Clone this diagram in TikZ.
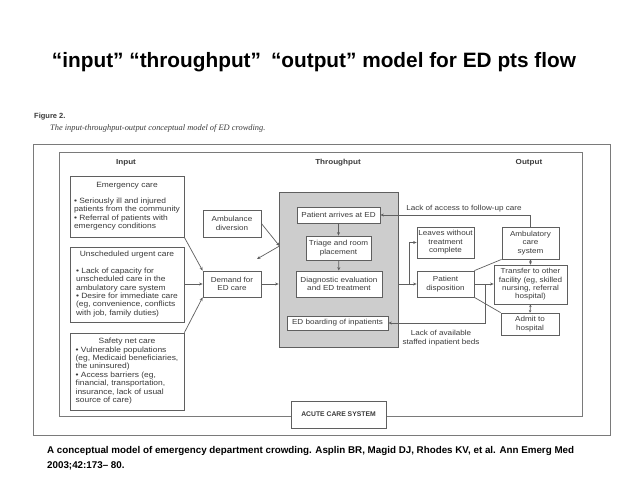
\documentclass[tikz,border=0pt]{standalone}
\usepackage{fontspec}
\setmainfont{Liberation Sans}
\newfontfamily\figfont[FakeStretch=1.11]{Liberation Sans}
\newfontfamily\capserif{Liberation Serif}
\usetikzlibrary{arrows.meta}
\definecolor{ln}{HTML}{5F5F5F}
\definecolor{tx}{HTML}{3A3A3A}
\definecolor{gfill}{HTML}{CDCDCD}
\definecolor{frm}{HTML}{7A7A7A}
\begin{document}
\begin{tikzpicture}[x=1pt,y=-1pt,
  fig/.style={font=\figfont\fontsize{7.3}{8.4}\selectfont, text=tx},
  box/.style={fig, draw=ln, line width=0.8pt, fill=white, inner sep=0pt, align=center},
  inbox/.style={box, font=\figfont\fontsize{7.6}{8.4}\selectfont},
  lbl/.style={fig, inner sep=0pt, align=center},
  con/.style={draw=ln, line width=0.7pt},
  arr/.style={con, -{Stealth[length=3.5pt,width=3pt]}},
  darr/.style={con, {Stealth[length=2.5pt,width=2.5pt]}-{Stealth[length=2.5pt,width=2.5pt]}},
  hdr/.style={font=\figfont\fontsize{7.3}{8}\selectfont\bfseries, text=tx, inner sep=0pt}
]
\useasboundingbox (0,0) rectangle (638,479);
\fill[white] (0,0) rectangle (638,479);

% title
\node[font=\fontsize{20.8}{24}\selectfont\bfseries, inner sep=0pt] (title) at (314,62)
  {“input” “throughput”\hspace{0.2em} “output” model for ED pts flow};

% figure caption
\node[anchor=west, font=\fontsize{7.5}{9}\selectfont\bfseries, text=tx, inner sep=0pt] (fig2) at (34,117) {Figure 2.};
\node[anchor=west, font=\capserif\itshape\fontsize{8.4}{10}\selectfont, text=tx, inner sep=0pt] (figcap) at (50,128)
  {The input-throughput-output conceptual model of ED crowding.};

% frames
\draw[frm, line width=1pt] (33,144) rectangle (610,435);
\draw[frm, line width=0.9pt] (59,152) rectangle (582,416);

% headers
\node[hdr] (hin) at (126,163) {Input};
\node[hdr] (hth) at (338,163) {Throughput};
\node[hdr] (hout) at (529,163) {Output};

% throughput gray box
\node[draw=ln, line width=0.8pt, fill=gfill, minimum width=119pt, minimum height=155pt, inner sep=0pt] (gray) at (338.5,269.5) {};

% input boxes
\node[inbox, minimum width=114pt, minimum height=61pt] (emerg) at (127,206.5)
  {\begin{tabular}{@{}l@{}}\multicolumn{1}{@{}c@{}}{Emergency care}\\[7.5pt]
   • Seriously ill and injured\\ patients from the community\\ • Referral of patients with\\ emergency conditions\end{tabular}};
\node[inbox, minimum width=114pt, minimum height=75pt] (unsch) at (127,284.5)
  {\begin{tabular}{@{}l@{}}\multicolumn{1}{@{}c@{}}{Unscheduled urgent care}\\[8pt]
   • Lack of capacity for\\ unscheduled care in the\\ ambulatory care system\\ • Desire for immediate care\\ (eg, convenience, conflicts\\ with job, family duties)\end{tabular}};
\node[inbox, minimum width=114pt, minimum height=77pt] (safety) at (127,371.5)
  {\begin{tabular}{@{}l@{}}\multicolumn{1}{@{}c@{}}{Safety net care}\\
   • Vulnerable populations\\ (eg, Medicaid beneficiaries,\\ the uninsured)\\ • Access barriers (eg,\\ financial, transportation,\\ insurance, lack of usual\\ source of care)\end{tabular}};

% middle-left boxes
\node[box, minimum width=58pt, minimum height=27pt] (amb) at (232,223.5) {Ambulance\\diversion};
\node[box, minimum width=58pt, minimum height=26pt] (demand) at (232,284) {Demand for\\ED care};

% throughput boxes
\node[box, minimum width=83pt, minimum height=16pt] (arrives) at (338.5,215) {Patient arrives at ED};
\node[box, minimum width=65pt, minimum height=24pt] (triage) at (338.5,248) {Triage and room\\placement};
\node[box, minimum width=86pt, minimum height=26pt] (diag) at (339,284) {Diagnostic evaluation\\and ED treatment};
\node[box, minimum width=101pt, minimum height=14pt] (board) at (337.5,323) {ED boarding of inpatients};

% output boxes
\node[box, minimum width=57pt, minimum height=31pt] (leaves) at (445.5,242.5) {Leaves without\\treatment\\complete};
\node[box, minimum width=57pt, minimum height=26pt] (dispo) at (445.5,284) {Patient\\disposition};
\node[box, minimum width=57pt, minimum height=32pt] (ambul) at (530.5,243) {Ambulatory\\care\\system};
\node[box, minimum width=73pt, minimum height=39pt] (transfer) at (530.5,284.5) {Transfer to other\\facility (eg, skilled\\nursing, referral\\hospital)};
\node[box, minimum width=58pt, minimum height=22pt] (admit) at (530,324) {Admit to\\hospital};

% acute care system
\node[draw=ln, line width=0.8pt, fill=white, minimum width=95pt, minimum height=27pt, inner sep=0pt,
      font=\fontsize{6.8}{8}\selectfont\bfseries, text=tx] (acute) at (338.5,414.5) {ACUTE CARE SYSTEM};

% labels
\node[lbl] (lackfu) at (464,209) {Lack of access to follow-up care};
\node[lbl] (lackbeds) at (441,338) {Lack of available\\staffed inpatient beds};

% coordinates
\coordinate (pin) at (279.5,246);
\coordinate (pout) at (257,259);
\coordinate (brA) at (409,284);
\coordinate (brB) at (485,284);

% input connectors
\draw[arr] (emerg.south east) -- (demand.north west);
\draw[arr] (unsch.east |- demand) -- (demand.west);
\draw[arr] (safety.north east) -- (demand.south west);
\draw[arr] (demand.east) -- (gray.west |- demand);
\draw[arr] (amb.east) -- (pin);
\draw[arr] (pin) -- (pout);

% throughput connectors
\draw[arr] (arrives) -- (triage);
\draw[arr] (triage) -- (diag);

% output connectors
\draw[arr] (gray.east |- diag) -- (dispo.west);
\draw[arr] (brA) |- (leaves.west);
\draw[arr] (dispo.east) -- (transfer.west |- dispo);
\draw[arr] (brB) |- (board.east);
\draw[con] (dispo.north east) -- (ambul.south west);
\draw[con] (dispo.south east) -- (admit.north west);
\draw[arr] (ambul.north) |- (arrives.east);
\draw[darr] (ambul.south) -- (transfer.north);
\draw[darr] (transfer.south) -- (admit.north);

% reference
\node[anchor=north west, align=left, font=\fontsize{9.8}{15.5}\selectfont\bfseries, inner sep=0pt] (cite) at (47,446)
  {A conceptual model of emergency department crowding. Asplin BR, Magid DJ, Rhodes KV, et al. Ann Emerg Med\\2003;42:173– 80.};
\end{tikzpicture}
\end{document}
